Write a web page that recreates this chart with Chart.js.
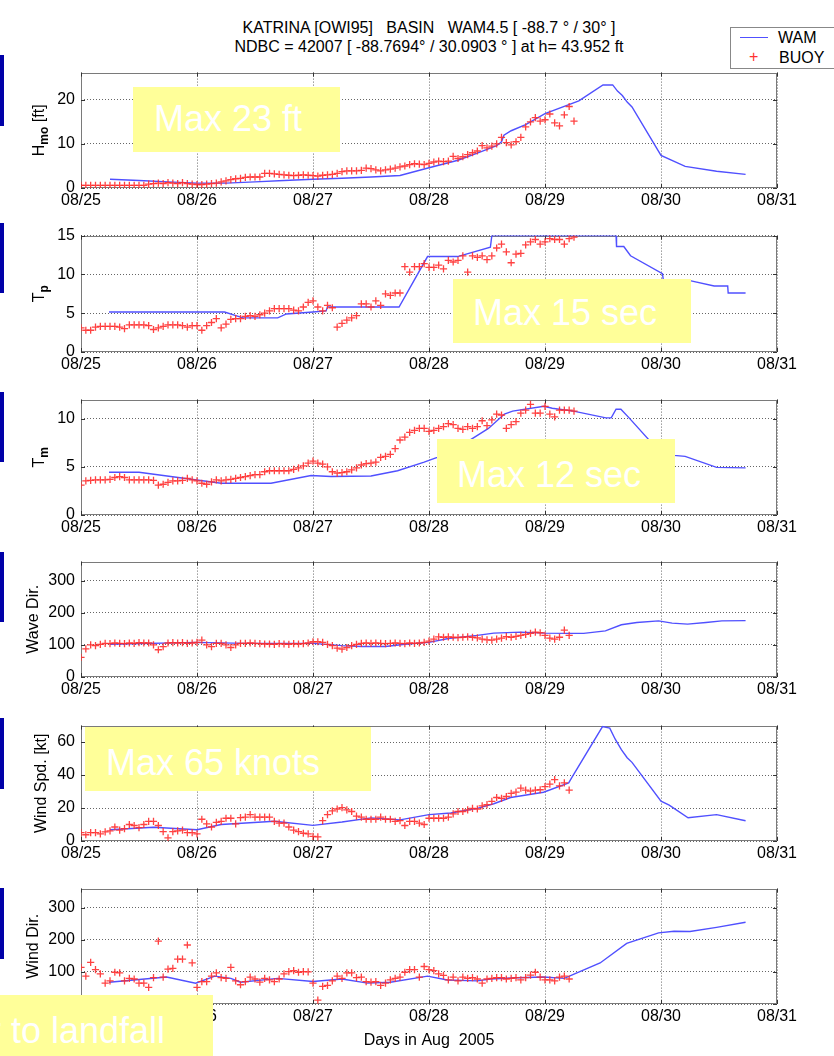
<!DOCTYPE html>
<html><head><meta charset="utf-8">
<script src="https://cdn.jsdelivr.net/npm/chart.js@4.4.1/dist/chart.umd.min.js"></script>
<style>
html,body{margin:0;padding:0;background:#fff;}
body{width:834px;height:1056px;position:relative;overflow:hidden;font-family:"Liberation Sans",Arial,sans-serif;}
canvas{position:absolute;left:0;z-index:1;}
.t{position:absolute;left:179px;width:500px;text-align:center;font-size:16px;white-space:pre;line-height:19px;color:#000;z-index:3;}
.ybox{position:absolute;background:#FFFF99;overflow:hidden;z-index:5;}
.ybox span{position:absolute;color:#fff;font-size:36px;white-space:pre;line-height:40px;}
.bar{position:absolute;left:0;width:4px;background:#0000a8;z-index:5;}
.leg{position:absolute;left:730px;top:27px;width:115px;height:40px;border:1px solid #888;background:#fff;z-index:4;font-size:16px;}
.leg div{position:absolute;white-space:pre;line-height:18px;}
</style></head>
<body>
<div class="t" style="top:18px">KATRINA [OWI95]   BASIN   WAM4.5 [ -88.7 ° / 30° ]</div>
<div class="t" style="top:37px">NDBC = 42007 [ -88.7694° / 30.0903 ° ] at h= 43.952 ft</div>
<div class="leg">
  <div style="left:9px;top:9px;width:28px;height:0;border-top:1.5px solid rgb(80,80,255)"></div>
  <div style="left:47px;top:1px">WAM</div>
  <div style="left:18px;top:20px;color:rgb(255,50,50)">+</div>
  <div style="left:48px;top:21px">BUOY</div>
</div>
<div class="bar" style="top:55px;height:71px"></div>
<div class="bar" style="top:223px;height:70px"></div>
<div class="bar" style="top:392px;height:70px"></div>
<div class="bar" style="top:552px;height:70px"></div>
<div class="bar" style="top:718px;height:71px"></div>
<div class="bar" style="top:888px;height:71px"></div>
<div class="ybox" style="left:133px;top:87px;width:207px;height:65px"><span style="left:21px;top:12px">Max 23 ft</span></div>
<div class="ybox" style="left:453px;top:279px;width:238px;height:64px"><span style="left:20px;top:14px">Max 15 sec</span></div>
<div class="ybox" style="left:437px;top:439px;width:238px;height:64px"><span style="left:20px;top:16px">Max 12 sec</span></div>
<div class="ybox" style="left:85px;top:727px;width:286px;height:64px"><span style="left:21px;top:16px">Max 65 knots</span></div>
<div class="ybox" style="left:0px;top:995px;width:213px;height:61px"><span style="left:-11px;top:16px">r to landfall</span></div>
<script>
// ---------- axis ticks ----------
const xTickHours = [0, 24, 48, 72, 96, 120, 144];
const xTickLabels = ['08/25', '08/26', '08/27', '08/28', '08/29', '08/30', '08/31'];
const hmoTicks = [0, 10, 20];
const tpTicks = [0, 5, 10, 15];
const tmTicks = [0, 5, 10];
const waveDirTicks = [0, 100, 200, 300];
const windSpdTicks = [0, 20, 40, 60];
const windDirTicks = [0, 100, 200, 300];

// ---------- BUOY (NDBC 42007), hourly records from 08/25 00:00 ----------
const buoyStartHour = 0;
const hmoBuoy = [0.6,0.6,0.6,0.6,0.6,0.6,0.6,0.6,0.6,0.6,0.6,0.6,0.6,0.6,
 0.9,1.0,1.1,1.0,1.2,1.1,1.0,1.2,1.0,0.9,0.8,0.8,0.9,1.0,1.1,
 1.4,1.6,1.9,2.1,2.2,2.4,2.5,2.5,2.5,
 3.3,3.3,3.2,3.1,3.0,2.9,
 2.8,2.9,3.0,2.9,2.8,2.7,2.9,3.0,3.1,3.3,
 3.7,3.9,3.9,3.9,4.0,
 4.5,4.4,4.1,3.9,4.1,4.3,4.5,4.8,5.0,5.3,
 5.5,5.4,5.3,5.6,5.9,6.1,6.0,6.1,7.2,6.7,
 7.1,7.6,8.0,8.4,9.6,9.1,9.5,10.0,11.5,10.3,
 9.8,10.5,11.5,13.9,15.0,16.0,15.2,15.5,16.8,14.8,
 14.1,16.6,18.5,15.2];
const tpBuoy = [3.1,2.8,2.8,3.2,3.3,3.3,3.3,3.3,3.2,3.0, 3.5,3.5,3.5,3.5,3.4,2.9,3.1,3.3,3.5,3.5,
 3.5,3.4,3.2,3.4,3.4,2.8,3.4,3.8,4.3,3.1, 3.6,4.2,4.3,4.3,4.6,4.7,4.6,4.8,5.0,5.3,
 5.6,5.6,5.6,5.6,5.4,5.3,5.8,6.4,6.6,5.8, 5.3,6.0,5.7,3.2,3.7,4.1,4.4,4.7,6.2,6.2,
 5.8,6.6,6.0,7.5,7.3,7.6,7.6,11.0,10.3,11.0, 11.0,11.4,10.9,10.9,11.2,10.7,11.8,11.6,11.8,12.4,
 10.3,12.4,12.2,12.4,11.9,12.4,13.4,13.9,12.9,11.5, 12.6,12.7,13.8,14.2,14.5,13.9,14.2,14.6,14.5,14.5,
 13.9,14.6,14.8];
const tmBuoy = [3.1,3.55,3.6,3.65,3.65,3.65,3.7,3.9,4.0,3.9, 3.65,3.65,3.65,3.65,3.65,3.6,3.1,3.2,3.4,3.55,
 3.55,3.6,3.8,3.65,3.55,3.3,3.2,3.45,3.65,3.55, 3.65,3.7,3.8,3.9,4.0,4.1,4.2,4.2,4.5,4.6,
 4.6,4.6,4.6,4.6,4.75,4.9,5.1,5.4,5.6,5.4, 5.3,5.0,4.5,4.35,4.4,4.5,4.7,4.9,5.2,5.35,
 5.4,5.5,6.0,6.1,6.3,6.9,7.8,8.1,8.6,8.8, 9.0,9.0,8.7,8.8,9.0,9.2,9.5,9.4,9.0,8.9,
 9.2,9.0,9.2,9.8,9.3,9.9,10.5,10.4,9.0,9.4, 9.7,10.6,10.9,11.5,10.6,10.6,11.3,10.5,10.2,10.9,
 10.9,10.9,10.8];
const waveDirBuoy = [61,88,100,98,102,105,104,106,105,104, 106,105,107,106,106,100,85,95,106,107,
 106,107,105,106,108,115,100,95,105,105, 100,92,100,105,105,106,105,104,103,103,
 102,104,103,102,104,103,104,106,110,110, 108,102,98,90,87,92,98,102,105,106,
 105,106,105,104,105,106,105,104,106,105, 106,108,112,118,125,124,125,124,123,124,
 125,124,122,118,116,115,118,121,126,124, 127,130,133,136,140,138,130,121,118,124,
 146,130];
const windSpdBuoy = [5.1,3.8,5.1,5.1,4.3,5.5,6.2,8.5,6.6,7.5, 10,9.4,8.1,10,11.9,11.9,9.4,5.7,1.9,5.7,
 6.2,6.6,5.1,5.1,4.3,13.2,10.4,8.5,11.3,11.9, 13.8,13.8,10.4,14.2,14.5,16,14.5,14.5,14.5,14.5,
 11.9,10.8,10.8,8.5,6.6,5.7,4.7,4.3,2.8,2.5, 12.3,16,18.3,19.4,20.2,18.9,17.9,15.1,14.5,13.2,
 13.2,13.2,14.5,13.2,13.2,11.9,12.3,9.4,11.9,11.9, 10.8,10,13.8,13.8,13.8,13.8,14.5,16.4,17.9,17.9,
 18.9,19.8,19.4,21.3,22.1,24,26.4,25.8,27,28.9, 29.6,32.1,30.8,30.2,30.8,31.1,33,34.5,37.2,33.4,
 35.3,30.8];
const windDirBuoy = [114,87,130,107,94,65,72,99,97,72, 80,78,65,65,52,82,196,84,109,111,
 140,140,184,128,52,70,70,87,97,82, 80,114,72,60,70,84,78,68,80,75,
 70,78,94,101,104,99,101,100,65,12, 55,58,72,87,80,97,97,82,84,70,
 68,70,58,65,75,80,84,99,107,107, 84,117,107,104,94,89,75,84,72,84,
 80,82,78,65,78,80,82,82,78,80, 82,75,82,90,99,84,75,75,72,84,
 87,78];

// ---------- WAM model (hours since 08/25 00:00, value) ----------
const hmoWamT = [6,12,18,24,30,36,42,48,54,60,66,72,78,82,86,87,87.5,89,92,96,103,108,110,111,112,113,114,120,125,131.5,137.5];
const hmoWamV = [2.0,1.7,1.4,1.1,1.1,1.4,1.7,2.0,2.2,2.5,2.85,4.6,6.3,7.9,9.6,10.5,12.0,13.0,14.4,16.9,19.8,23.4,23.4,22.0,21.0,19.5,18.4,7.4,4.9,3.8,3.1];
const tpWamT = [5.8,29.7,33.5,40.7,42.5,48,50.7,51,65.8,71.7,77.9,84.7,85,110.7,110.8,112.3,113.7,120.3,120.5,126,131,133.8,133.9,137.5];
const tpWamV = [5.15,5.15,4.4,4.4,4.9,5.15,5.3,5.8,5.8,12.3,12.3,13.5,15,15,13.6,13.6,12.4,10.1,9.2,9.2,8.5,8.5,7.6,7.6];
const tmWamT = [5.8,12,29,39.3,47.6,51.7,60,65.5,71,73.7,79.4,84.3,87.6,89.3,95.8,97.5,101.9,108.6,109.7,110.7,111.7,113.4,118.4,122.7,125,131.5,137.5];
const tmWamV = [4.45,4.45,3.3,3.3,4.1,4.0,4.05,4.6,5.5,6.0,7.45,9.0,10.5,10.8,11.3,11.1,10.8,10.1,10.1,11.0,11.0,10.1,7.3,6.2,6.1,4.95,4.9];
const waveDirWamT = [6,24,34,48,54,58,63,67,72,76,82,85.4,91,96,101,104,108.5,111.8,115,119.5,122.3,125.5,129.3,132.6,137.5];
const waveDirWamV = [102,108,105,105,98,95,95,102,108,120,130,137,140,137,136,136,144,163,170,175,168,165,170,175,176];
const windSpdWamT = [6,15,24,29,40,48,54,60,66,72,76.5,82,85.4,88.9,95.7,100.9,101.6,107.9,109.4,110.5,111.8,113,114,120,121.7,125.6,131.5,137.5];
const windSpdWamV = [6.8,8.3,6.8,10,12.0,9.5,11.5,14,12.8,16,17,19.8,22.6,26.4,29.6,35.3,38.7,69.4,68.5,61.9,55.4,50.5,47.7,24.2,21.7,14.1,16.0,12.3];
const windDirWamT = [5.8,17.7,23.7,27.7,31,33,40.7,48,54,59.3,64,71.7,75.8,82,84.7,90.2,95.7,100,102.6,107.4,112.9,119.5,122.7,126,131.5,137.5];
const windDirWamV = [68,84,65,87,80,68,80,70,78,65,68,87,75,72,78,82,84,80,97,128,189,222,227,226,239,255];

const xAxisTitle = 'Days in Aug  2005';

Chart.defaults.font.family = '"Liberation Sans", Arial, sans-serif';
Chart.defaults.font.size = 16;
Chart.defaults.color = '#000';

const FONT = '"Liberation Sans", Arial, sans-serif';
const WAM_COLOR = 'rgb(80,80,255)';
const BUOY_COLOR = 'rgba(255,45,45,0.9)';

function makePlot(o) {
  const padTop = 8;
  const xH = o.xTitle ? 50 : 30;
  const cv = document.createElement('canvas');
  const h = padTop + o.plotH + xH;
  cv.width = 834; cv.height = h;
  cv.style.width = '834px'; cv.style.height = h + 'px';
  cv.style.top = (o.plotTop - padTop) + 'px';
  document.body.appendChild(cv);

  const buoyPts = [];
  o.buoy.forEach((v, i) => { if (v != null) buoyPts.push({x: buoyStartHour + i, y: v}); });
  const wamPts = o.wamT.map((t, i) => ({x: t, y: o.wamV[i]}));

  const framePlugin = {
    id: 'frame' + o.plotTop,
    beforeDatasetsDraw(chart) {
      const ctx = chart.ctx, a = chart.chartArea;
      ctx.save();
      ctx.setLineDash([]);
      ctx.strokeStyle = '#7a7a7a'; ctx.lineWidth = 1;
      ctx.strokeRect(Math.round(a.left) + 0.5, Math.round(a.top) + 0.5, Math.round(a.right - a.left) - 1, Math.round(a.bottom - a.top) - 1);
      ctx.strokeStyle = '#333'; ctx.beginPath();
      const xs = chart.scales.x, ys = chart.scales.y;
      xs.ticks.forEach(t => {
        const p = Math.round(xs.getPixelForValue(t.value)) + 0.5;
        ctx.moveTo(p, a.bottom); ctx.lineTo(p, a.bottom - 4);
        ctx.moveTo(p, a.top); ctx.lineTo(p, a.top + 4);
      });
      ys.ticks.forEach(t => {
        const p = Math.round(ys.getPixelForValue(t.value)) + 0.5;
        ctx.moveTo(a.left, p); ctx.lineTo(a.left + 4, p);
        ctx.moveTo(a.right, p); ctx.lineTo(a.right - 4, p);
      });
      ctx.stroke();
      ctx.restore();
    },
    afterDraw(chart) {
      const ctx = chart.ctx, a = chart.chartArea;
      ctx.save();
      ctx.translate(o.titleX, (a.top + a.bottom) / 2);
      ctx.rotate(-Math.PI / 2);
      ctx.fillStyle = '#000';
      ctx.textBaseline = 'middle';
      ctx.textAlign = 'left';
      let total = 0;
      const widths = o.yTitle.map(p => {
        ctx.font = p.sub ? ('bold 12px ' + FONT) : ('16px ' + FONT);
        const w = ctx.measureText(p.t).width; total += w; return w;
      });
      let x = -total / 2;
      o.yTitle.forEach((p, i) => {
        ctx.font = p.sub ? ('bold 12px ' + FONT) : ('16px ' + FONT);
        ctx.fillText(p.t, x, p.sub ? 5 : 0);
        x += widths[i];
      });
      ctx.restore();
    }
  };

  new Chart(cv, {
    type: 'scatter',
    data: {
      datasets: [
        {label: 'BUOY', data: buoyPts, showLine: false, pointStyle: 'cross',
         pointRadius: 3.6, pointBorderWidth: 1.3, borderColor: BUOY_COLOR, backgroundColor: BUOY_COLOR, order: 0},
        {label: 'WAM', data: wamPts, showLine: true, pointRadius: 0, borderColor: WAM_COLOR,
         backgroundColor: WAM_COLOR, borderWidth: 1.4, tension: 0, order: 1}
      ]
    },
    options: {
      responsive: false, animation: false, devicePixelRatio: 1,
      layout: {padding: {top: padTop, left: 0, right: 57, bottom: 0}},
      plugins: {legend: {display: false}, tooltip: {enabled: false}},
      scales: {
        x: {
          type: 'linear', min: 0, max: 144,
          afterBuildTicks: ax => { ax.ticks = xTickHours.map(v => ({value: v})); },
          afterFit: ax => { ax.height = xH; },
          ticks: {autoSkip: false, maxRotation: 0, minRotation: 0, padding: 3, color: '#000',
                  font: {size: 16}, callback: (v, i) => xTickLabels[i]},
          grid: {color: 'rgba(0,0,0,0.6)', lineWidth: 1, drawTicks: false},
          border: {display: false, dash: [1, 2]},
          title: o.xTitle ? {display: true, text: o.xTitle, color: '#000', font: {size: 16}, padding: {top: 0, bottom: 4}} : {display: false}
        },
        y: {
          type: 'linear', min: 0, max: o.ymax,
          afterBuildTicks: ax => { ax.ticks = o.yTicks.map(v => ({value: v})); },
          afterFit: ax => { ax.width = 81; },
          ticks: {padding: 6, color: '#000', font: {size: 16}, callback: v => String(v)},
          grid: {color: 'rgba(0,0,0,0.6)', lineWidth: 1, drawTicks: false},
          border: {display: false, dash: [1, 2]}
        }
      }
    },
    plugins: [framePlugin]
  });
}

makePlot({plotTop: 65, plotH: 123, ymax: 26.2, yTicks: hmoTicks, buoy: hmoBuoy, wamT: hmoWamT, wamV: hmoWamV,
  titleX: 40, yTitle: [{t: 'H'}, {t: 'mo', sub: true}, {t: ' [ft]'}]});
makePlot({plotTop: 228, plotH: 124, ymax: 15, yTicks: tpTicks, buoy: tpBuoy, wamT: tpWamT, wamV: tpWamV,
  titleX: 40, yTitle: [{t: 'T'}, {t: 'p', sub: true}]});
makePlot({plotTop: 392, plotH: 123, ymax: 12, yTicks: tmTicks, buoy: tmBuoy, wamT: tmWamT, wamV: tmWamV,
  titleX: 40, yTitle: [{t: 'T'}, {t: 'm', sub: true}]});
makePlot({plotTop: 554, plotH: 123, ymax: 360, yTicks: waveDirTicks, buoy: waveDirBuoy, wamT: waveDirWamT, wamV: waveDirWamV,
  titleX: 34, yTitle: [{t: 'Wave Dir.'}]});
makePlot({plotTop: 718, plotH: 123, ymax: 70, yTicks: windSpdTicks, buoy: windSpdBuoy, wamT: windSpdWamT, wamV: windSpdWamV,
  titleX: 42, yTitle: [{t: 'Wind Spd. [kt]'}]});
makePlot({plotTop: 881, plotH: 123, ymax: 360, yTicks: windDirTicks, buoy: windDirBuoy, wamT: windDirWamT, wamV: windDirWamV,
  titleX: 34, yTitle: [{t: 'Wind Dir.'}], xTitle: xAxisTitle});
</script>
</body></html>
